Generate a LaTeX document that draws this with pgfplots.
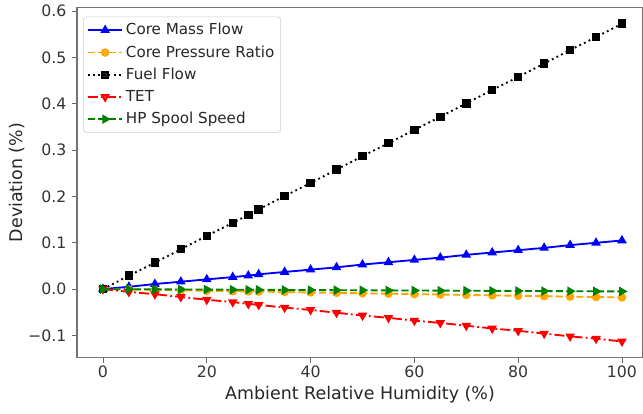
\documentclass[border=0pt]{standalone}
\usepackage{fontspec}
\setmainfont{DejaVu Sans}
\usepackage{pgfplots}
\pgfplotsset{compat=1.18}
\definecolor{mplorange}{RGB}{255,165,0}
\definecolor{mplgreen}{RGB}{0,128,0}
\definecolor{mplblue}{RGB}{0,0,255}
\definecolor{mplred}{RGB}{255,0,0}
\pgfplotstableread{
x fuel cmf cpr tet hps
0   0.000 0.000  0.0000  0.000  0.0000
5   0.029 0.005 -0.0009 -0.006 -0.0003
10  0.057 0.011 -0.0018 -0.011 -0.0005
15  0.086 0.016 -0.0027 -0.017 -0.0008
20  0.115 0.021 -0.0036 -0.023 -0.0010
25  0.143 0.026 -0.0045 -0.028 -0.0013
28  0.160 0.029 -0.0050 -0.032 -0.0014
30  0.172 0.032 -0.0054 -0.034 -0.0015
35  0.201 0.037 -0.0063 -0.040 -0.0018
40  0.229 0.042 -0.0072 -0.045 -0.0020
45  0.258 0.047 -0.0081 -0.051 -0.0023
50  0.287 0.053 -0.0090 -0.057 -0.0025
55  0.315 0.058 -0.0099 -0.062 -0.0028
60  0.344 0.063 -0.0108 -0.068 -0.0030
65  0.372 0.068 -0.0117 -0.073 -0.0033
70  0.401 0.074 -0.0126 -0.079 -0.0035
75  0.430 0.079 -0.0135 -0.085 -0.0038
80  0.458 0.084 -0.0144 -0.090 -0.0040
85  0.487 0.089 -0.0153 -0.096 -0.0043
90  0.516 0.095 -0.0162 -0.102 -0.0045
95  0.544 0.100 -0.0171 -0.107 -0.0048
100 0.573 0.105 -0.0180 -0.113 -0.0050
}\datatable
\begin{document}
\begin{tikzpicture}
\begin{axis}[
  scale only axis, width=396pt, height=245pt,
  xmin=-5, xmax=104.05, ymin=-0.148, ymax=0.608,
  xtick={0,20,40,60,80,100},
  ytick={-0.1,0,0.1,0.2,0.3,0.4,0.5,0.6},
  yticklabels={−0.1,0.0,0.1,0.2,0.3,0.4,0.5,0.6},
  /pgf/number format/assume math mode=true,
  tick pos=left, tick align=outside,
  major tick length=3.5pt,
  every tick/.style={black!60, line width=0.6pt},
  axis line style={black!55, line width=0.8pt},
  tick label style={font=\fontsize{11}{13}\selectfont, text=black!80},
  xticklabel style={yshift=1pt},
  yticklabel style={xshift=-0.5pt},
  label style={font=\fontsize{12.2}{14}\selectfont, text=black!85},
  xlabel={Ambient Relative Humidity (\%)},
  ylabel={Deviation (\%)},
  xlabel style={yshift=1pt},
  ylabel style={yshift=-4.5pt},
  legend style={at={(0.011,0.974)}, anchor=north west, draw=black!20, rounded corners=2pt,
    fill=white, fill opacity=0.8, text opacity=1, font=\fontsize{10.6}{12.5}\selectfont,
    row sep=2.1pt, inner sep=2.5pt, text=black!85},
  legend cell align=left,
  legend image code/.code={\draw[mark repeat=2,mark phase=2] plot coordinates {(0cm,0cm) (0.42cm,0cm) (0.84cm,0cm)};},
  every axis plot/.append style={line width=1.3pt, mark size=2.6pt},
]
\addplot[mplblue, solid, mark=triangle*, mark options={solid}] table[x=x,y=cmf] {\datatable};
\addlegendentry{Core Mass Flow}
\addplot[mplorange, dash pattern=on 5pt off 2.2pt, mark=*, mark size=2.3pt, mark options={solid}] table[x=x,y=cpr] {\datatable};
\addlegendentry{Core Pressure Ratio}
\addplot[black, dash pattern=on 1.3pt off 2.3pt, mark=square*, mark size=2.3pt, mark options={solid}] table[x=x,y=fuel] {\datatable};
\addlegendentry{Fuel Flow}
\addplot[mplred, dash pattern=on 7pt off 2.2pt on 1.3pt off 2.2pt, mark=triangle*, mark options={solid, rotate=180}] table[x=x,y=tet] {\datatable};
\addlegendentry{TET}
\addplot[mplgreen, dash pattern=on 5pt off 2.2pt, mark=triangle*, mark options={solid, rotate=-90}] table[x=x,y=hps] {\datatable};
\addlegendentry{HP Spool Speed}
\end{axis}
\pgfresetboundingbox
\path[use as bounding box] ([shift={(-53.9pt,-39.2pt)}]current axis.south west) rectangle ([shift={(0pt,5.25pt)}]current axis.north east);
\end{tikzpicture}
\end{document}
